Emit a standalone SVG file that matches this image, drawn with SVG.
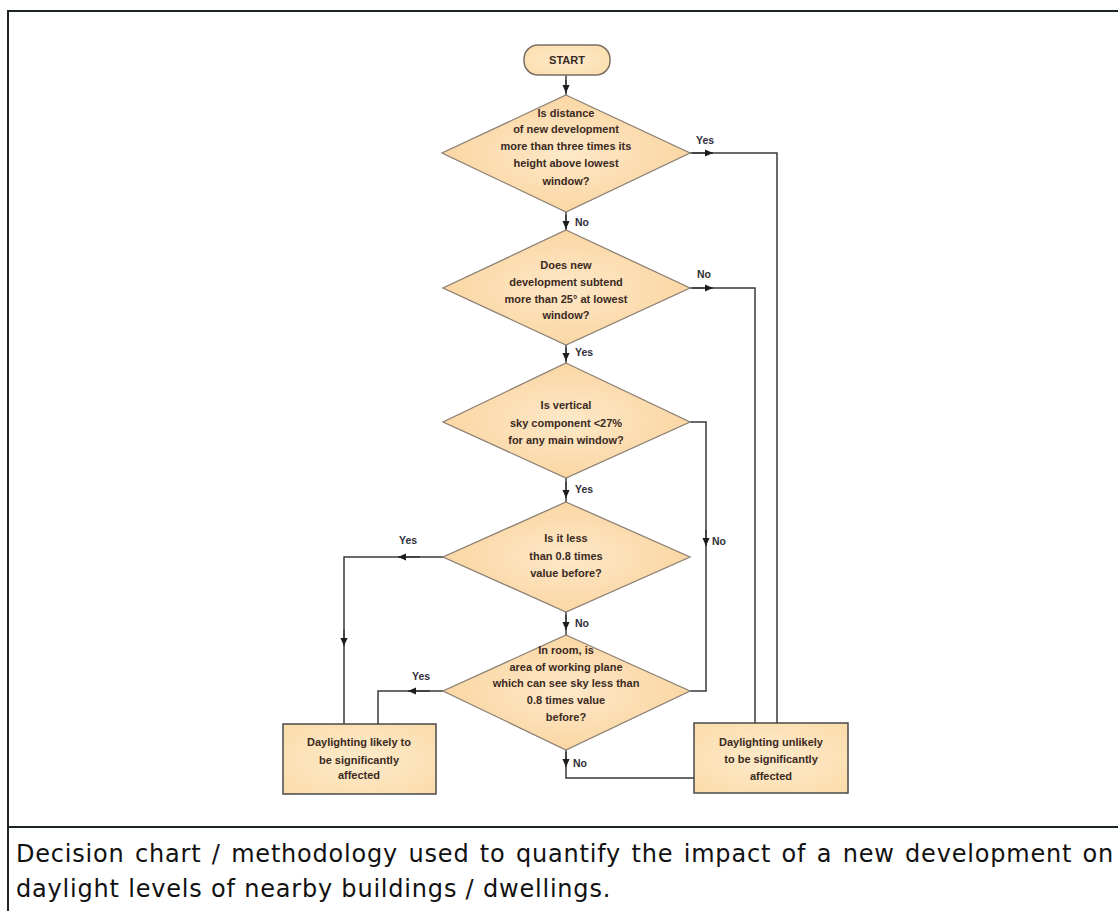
<svg xmlns="http://www.w3.org/2000/svg" width="1118" height="911" viewBox="0 0 1118 911">
<style>
.frame{stroke:#1c2626;stroke-width:2;fill:none}
.dia{fill:url(#fillg);stroke:#8c8074;stroke-width:1.3}
.box{fill:url(#fillb);stroke:#4a4a4a;stroke-width:1.5}
.term{fill:url(#fillb);stroke:#7a6e62;stroke-width:1.5}
.nt{font-family:"Liberation Sans",Arial,sans-serif;font-size:11px;font-weight:bold;fill:#3b2a22;text-anchor:middle}
.lbl{font-family:"Liberation Sans",Arial,sans-serif;font-size:10.5px;font-weight:bold;fill:#30303a}
.ln{stroke:#3a3a3a;stroke-width:1.5;fill:none}
.cap{font-family:"DejaVu Sans",Verdana,sans-serif;font-size:24px;fill:#111;letter-spacing:0.8px}
</style>
<defs>
<radialGradient id="fillg" cx="50%" cy="50%" r="60%">
<stop offset="0" stop-color="#fde8c8"/>
<stop offset="1" stop-color="#fad39c"/>
</radialGradient>
<radialGradient id="fillb" cx="50%" cy="50%" r="70%">
<stop offset="0" stop-color="#fdeacb"/>
<stop offset="1" stop-color="#fbdcaa"/>
</radialGradient>
<marker id="ah" viewBox="0 0 10 10" refX="10" refY="5" markerWidth="8" markerHeight="8" markerUnits="userSpaceOnUse" orient="auto">
<path d="M0,0.5 L10,5 L0,9.5 z" fill="#1e1e1e"/>
</marker>
</defs>
<rect width="1118" height="911" fill="#ffffff"/>
<g id="frame">
<path class="frame" d="M1118,11 L8,11 L8,911"/>
<path class="frame" d="M8,827 L1118,827"/>
</g>
<g id="connectors">
<path class="ln" d="M566,75 L566,95"/><path class="ln" d="M566,80 L566,93" marker-end="url(#ah)"/>
<path class="ln" d="M566,212 L566,230"/><path class="ln" d="M566,215 L566,229" marker-end="url(#ah)"/>
<path class="ln" d="M566,345 L566,363"/><path class="ln" d="M566,348 L566,361" marker-end="url(#ah)"/>
<path class="ln" d="M566,478 L566,502"/><path class="ln" d="M566,482 L566,498" marker-end="url(#ah)"/>
<path class="ln" d="M566,612 L566,635"/><path class="ln" d="M566,615 L566,630" marker-end="url(#ah)"/>
<path class="ln" d="M566,750 L566,778 L694,778"/><path class="ln" d="M566,752 L566,767" marker-end="url(#ah)"/>
<path class="ln" d="M690,153 L777,153 L777,723"/><path class="ln" d="M692,153 L713,153" marker-end="url(#ah)"/>
<path class="ln" d="M690,288 L755,288 L755,723"/><path class="ln" d="M692,288 L713,288" marker-end="url(#ah)"/>
<path class="ln" d="M690,422 L706,422 L706,691 L690,691"/><path class="ln" d="M706,530 L706,546" marker-end="url(#ah)"/>
<path class="ln" d="M443,557 L344,557 L344,724"/><path class="ln" d="M420,557 L398,557" marker-end="url(#ah)"/><path class="ln" d="M344,630 L344,646" marker-end="url(#ah)"/>
<path class="ln" d="M443,691 L378,691 L378,724"/><path class="ln" d="M430,691 L408,691" marker-end="url(#ah)"/>
<text class="lbl" x="575" y="226">No</text>
<text class="lbl" x="575" y="356">Yes</text>
<text class="lbl" x="575" y="493">Yes</text>
<text class="lbl" x="575" y="627">No</text>
<text class="lbl" x="573" y="767">No</text>
<text class="lbl" x="696" y="144">Yes</text>
<text class="lbl" x="697" y="278">No</text>
<text class="lbl" x="712" y="545">No</text>
<text class="lbl" x="399" y="544">Yes</text>
<text class="lbl" x="412" y="680">Yes</text>
</g>
<g id="start">
<rect class="term" x="524" y="45" width="86" height="30" rx="14"/>
<text class="nt" x="567" y="64">START</text>
</g>
<g id="q1">
<polygon class="dia" points="566,95 690,153 566,212 442,153"/>
<text class="nt" x="566" y="117">Is distance</text>
<text class="nt" x="566" y="133">of new development</text>
<text class="nt" x="566" y="150">more than three times its</text>
<text class="nt" x="566" y="167">height above lowest</text>
<text class="nt" x="566" y="185">window?</text>
</g>
<g id="q2">
<polygon class="dia" points="566,230 690,288 566,345 443,288"/>
<text class="nt" x="566" y="269">Does new</text>
<text class="nt" x="566" y="286">development subtend</text>
<text class="nt" x="566" y="303">more than 25° at lowest</text>
<text class="nt" x="566" y="319">window?</text>
</g>
<g id="q3">
<polygon class="dia" points="566,363 690,422 566,478 443,422"/>
<text class="nt" x="566" y="409">Is vertical</text>
<text class="nt" x="566" y="427">sky component &lt;27%</text>
<text class="nt" x="566" y="444">for any main window?</text>
</g>
<g id="q4">
<polygon class="dia" points="566,502 690,557 566,612 443,557"/>
<text class="nt" x="566" y="542">Is it less</text>
<text class="nt" x="566" y="560">than 0.8 times</text>
<text class="nt" x="566" y="577">value before?</text>
</g>
<g id="q5">
<polygon class="dia" points="566,635 690,691 566,750 443,691"/>
<text class="nt" x="566" y="654">In room, is</text>
<text class="nt" x="566" y="671">area of working plane</text>
<text class="nt" x="566" y="687">which can see sky less than</text>
<text class="nt" x="566" y="704">0.8 times value</text>
<text class="nt" x="566" y="721">before?</text>
</g>
<g id="likely">
<rect class="box" x="283" y="724" width="153" height="70"/>
<text class="nt" x="359" y="746">Daylighting likely to</text>
<text class="nt" x="359" y="764">be significantly</text>
<text class="nt" x="359" y="779">affected</text>
</g>
<g id="unlikely">
<rect class="box" x="694" y="723" width="154" height="70"/>
<text class="nt" x="771" y="746">Daylighting unlikely</text>
<text class="nt" x="771" y="763">to be significantly</text>
<text class="nt" x="771" y="780">affected</text>
</g>
<g id="caption">
<text class="cap" x="16" y="862" word-spacing="2">Decision chart / methodology used to quantify the impact of a new development on</text>
<text class="cap" x="16" y="897">daylight levels of nearby buildings / dwellings.</text>
</g>
</svg>
